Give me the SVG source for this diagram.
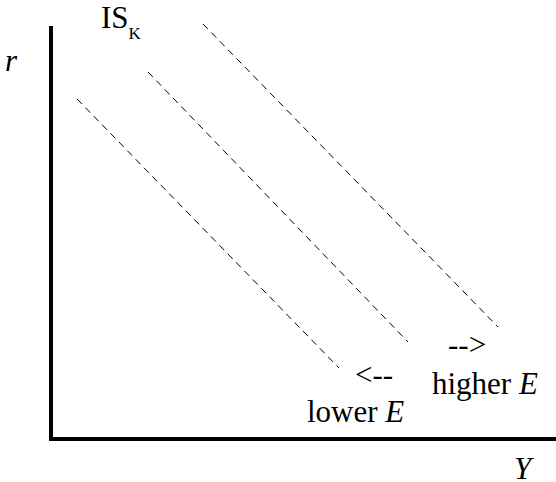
<svg xmlns="http://www.w3.org/2000/svg" width="556" height="482" viewBox="0 0 556 482">
<style>
text{font-family:"Liberation Serif","Times New Roman",serif;font-size:31px;fill:#000}
.it{font-style:italic}
.axis{stroke:#000;stroke-width:4;fill:none}
.is{stroke:#000;stroke-width:1;stroke-dasharray:7 5;fill:none}
</style>
<rect width="556" height="482" fill="#fff"/>
<g id="axes">
<path class="axis" d="M51 26 V439 H556"/>
</g>
<g id="connectors">
<line class="is" x1="77" y1="99" x2="339" y2="368"/>
<line class="is" x1="148" y1="72" x2="408" y2="342"/>
<line class="is" x1="203" y1="24" x2="498" y2="327"/>
</g>
<g id="labels">
<text class="it" x="5" y="71">r</text>
<text x="101" y="28">IS<tspan font-size="17" dy="11">K</tspan></text>
<text x="355" y="385">&lt;--</text>
<text x="448" y="355">--&gt;</text>
<text x="432" y="394">higher <tspan class="it">E</tspan></text>
<text x="307" y="422">lower <tspan class="it">E</tspan></text>
<text class="it" x="514" y="479">Y</text>
</g>
</svg>
